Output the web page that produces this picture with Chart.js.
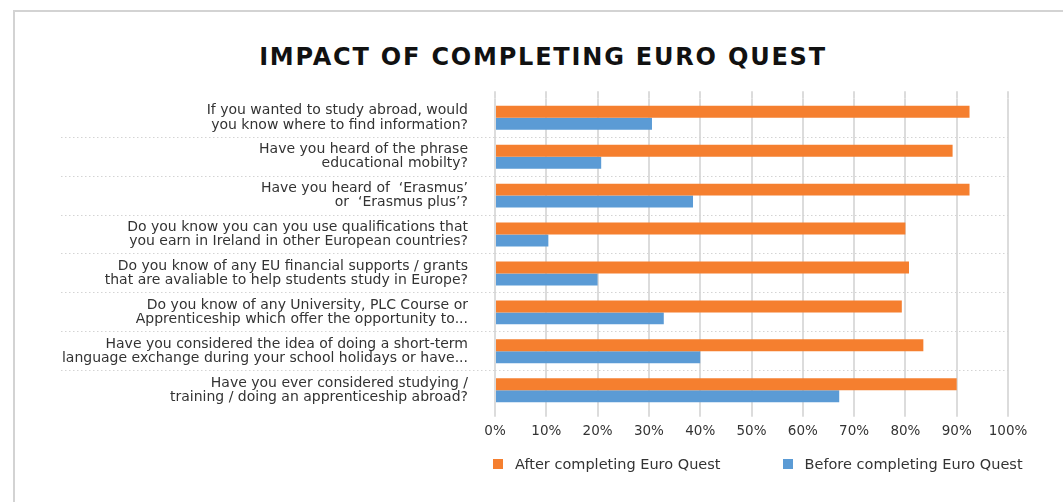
<!DOCTYPE html>
<html>
<head>
<meta charset="utf-8">
<script src="https://cdn.jsdelivr.net/npm/chart.js@4.4.1/dist/chart.umd.min.js"></script>
<style>
  html, body { margin: 0; padding: 0; background: #fff; }
  #wrap { position: relative; width: 1063px; height: 502px; overflow: hidden; background: #fff; }
  #frame { position: absolute; left: 13px; top: 10px; width: 1100px; height: 600px;
           border-left: 2px solid #d3d3d3; border-top: 2px solid #d3d3d3; }
  #title { position: absolute; left: 0; top: 43px; width: 1086px; text-align: center; margin: 0;
           font-family: "DejaVu Sans", sans-serif; font-weight: bold; font-size: 24px;
           letter-spacing: 1.8px; color: #111; }
  canvas { position: absolute; left: 0; top: 0; }
  #legend { position: absolute; left: 493px; top: 456px; display: flex; gap: 62px;
            font-family: "DejaVu Sans", sans-serif; font-size: 14.5px; color: #333; }
  #legend .item { display: flex; align-items: center; }
  #legend .box { width: 10px; height: 10px; margin-right: 12px; }
</style>
</head>
<body>
<div id="wrap">
  <div id="frame"></div>
  <h1 id="title">IMPACT OF COMPLETING EURO QUEST</h1>
  <canvas id="c" width="1063" height="502"></canvas>
  <div id="legend"></div>
</div>
<script>
const categories = [
  ["If you wanted to study abroad, would", "you know where to find information?"],
  ["Have you heard of the phrase", "educational mobilty?"],
  ["Have you heard of  \u2018Erasmus\u2019", "or  \u2018Erasmus plus\u2019?"],
  ["Do you know you can you use qualifications that", "you earn in Ireland in other European countries?"],
  ["Do you know of any EU financial supports / grants", "that are avaliable to help students study in Europe?"],
  ["Do you know of any University, PLC Course or", "Apprenticeship which offer the opportunity to..."],
  ["Have you considered the idea of doing a short-term", "language exchange during your school holidays or have..."],
  ["Have you ever considered studying /", "training / doing an apprenticeship abroad?"]
];
const seriesNames = ["After completing Euro Quest", "Before completing Euro Quest"];
const afterValues = [92.5, 89.2, 92.5, 80.0, 80.7, 79.3, 83.5, 90.0];
const beforeValues = [30.6, 20.7, 38.6, 10.4, 20.0, 32.9, 40.0, 67.1];
const xTickValues = [0, 10, 20, 30, 40, 50, 60, 70, 80, 90, 100];
const xTickLabels = ["0%", "10%", "20%", "30%", "40%", "50%", "60%", "70%", "80%", "90%", "100%"];

const FONT = "DejaVu Sans";
const GRID = "#dcdcdc";
const SEP = "#d4d4d4";

const sepColor = (c) => (c.index > 0 && c.index < categories.length) ? SEP : "rgba(0,0,0,0)";

const chart = new Chart(document.getElementById("c"), {
  type: "bar",
  data: {
    labels: categories,
    datasets: [
      { label: seriesNames[0], data: afterValues, backgroundColor: "#F57F2F",
        categoryPercentage: 0.615, barPercentage: 1.0 },
      { label: seriesNames[1], data: beforeValues, backgroundColor: "#5B9BD5",
        categoryPercentage: 0.615, barPercentage: 1.0 }
    ]
  },
  options: {
    indexAxis: "y",
    responsive: false,
    animation: false,
    layout: { padding: { left: 14, right: 55, top: 91.3, bottom: 62.3 } },
    plugins: {
      legend: { display: false },
      title: { display: false },
      tooltip: { enabled: false }
    },
    scales: {
      x: {
        position: "bottom",
        min: 0, max: 100,
        afterBuildTicks: (s) => { s.ticks = xTickValues.map(v => ({ value: v })); },
        afterFit: (s) => { s.height = 30; },
        ticks: {
          callback: (v, i) => xTickLabels[i],
          font: { family: FONT, size: 13.5 },
          color: "#333",
          padding: 7,
          maxRotation: 0
        },
        grid: { color: GRID, lineWidth: 2, tickLength: 7, tickColor: GRID },
        border: { display: false }
      },
      xTop: {
        axis: "x",
        position: "top",
        min: 0, max: 100,
        afterBuildTicks: (s) => { s.ticks = xTickValues.map(v => ({ value: v })); },
        afterFit: (s) => { s.height = 7; },
        ticks: { display: false },
        grid: { drawOnChartArea: false, color: GRID, lineWidth: 2, tickLength: 7, tickColor: GRID },
        border: { display: false }
      },
      y: {
        afterFit: (s) => { s.width = 481; },
        ticks: {
          font: { family: FONT, size: 14, lineHeight: 1.02 },
          color: "#333",
          padding: 27 - 434,
          autoSkip: false
        },
        grid: {
          offset: true,
          color: sepColor,
          tickColor: sepColor,
          lineWidth: 1,
          tickWidth: 1,
          tickLength: 434,
          tickBorderDash: [1.5, 2.5]
        },
        border: { display: false, dash: [1.5, 2.5] }
      }
    }
  }
});

// HTML legend built from the chart's datasets
const legendEl = document.getElementById("legend");
chart.data.datasets.forEach(ds => {
  const item = document.createElement("div");
  item.className = "item";
  const box = document.createElement("span");
  box.className = "box";
  box.style.background = ds.backgroundColor;
  const txt = document.createElement("span");
  txt.textContent = ds.label;
  item.appendChild(box);
  item.appendChild(txt);
  legendEl.appendChild(item);
});
</script>
</body>
</html>
